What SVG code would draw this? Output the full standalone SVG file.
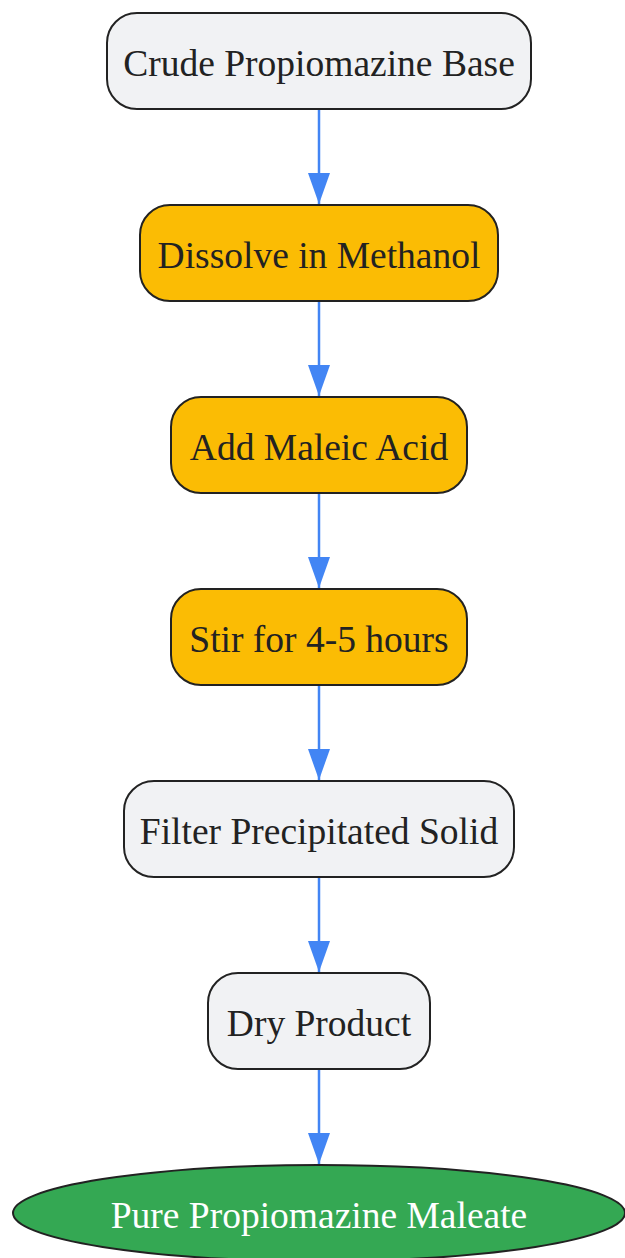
<svg xmlns="http://www.w3.org/2000/svg" width="625" height="1258" viewBox="0 0 625 1258">
<style>
.n rect,.n ellipse{stroke:#222;stroke-width:2}
.g rect{fill:#f1f2f4}
.y rect{fill:#fbbc04}
.e ellipse{fill:#34a853}
text{font-family:"Liberation Serif","Times New Roman",serif;font-size:37.5px;text-anchor:middle;fill:#222}
.e text{fill:#fff}
.c line{stroke:#4285f4;stroke-width:2.5}
</style>
<defs>
<marker id="arr" markerUnits="userSpaceOnUse" markerWidth="32" markerHeight="24" refX="31" refY="11" orient="auto" viewBox="0 0 32 24">
<path d="M0,0 L31,11 L0,22 Z" fill="#4285f4"/>
</marker>
</defs>
<g class="c">
<line x1="319" y1="109" x2="319" y2="204" marker-end="url(#arr)"/>
<line x1="319" y1="301" x2="319" y2="396" marker-end="url(#arr)"/>
<line x1="319" y1="493" x2="319" y2="588" marker-end="url(#arr)"/>
<line x1="319" y1="685" x2="319" y2="780" marker-end="url(#arr)"/>
<line x1="319" y1="877" x2="319" y2="972" marker-end="url(#arr)"/>
<line x1="319" y1="1069" x2="319" y2="1164" marker-end="url(#arr)"/>
</g>
<g id="n1" class="n g"><rect x="107" y="13" width="424" height="96" rx="30"/><text x="319" y="75.5">Crude Propiomazine Base</text></g>
<g id="n2" class="n y"><rect x="140" y="205" width="358" height="96" rx="30"/><text x="319" y="267.5">Dissolve in Methanol</text></g>
<g id="n3" class="n y"><rect x="171" y="397" width="296" height="96" rx="30"/><text x="319" y="459.5">Add Maleic Acid</text></g>
<g id="n4" class="n y"><rect x="171" y="589" width="296" height="96" rx="30"/><text x="319" y="651.5">Stir for 4-5 hours</text></g>
<g id="n5" class="n g"><rect x="124" y="781" width="390" height="96" rx="30"/><text x="319" y="843.5">Filter Precipitated Solid</text></g>
<g id="n6" class="n g"><rect x="208" y="973" width="222" height="96" rx="30"/><text x="319" y="1035.5">Dry Product</text></g>
<g id="n7" class="n e"><ellipse cx="319" cy="1213" rx="306" ry="48"/><text x="319" y="1227.5">Pure Propiomazine Maleate</text></g>
</svg>
